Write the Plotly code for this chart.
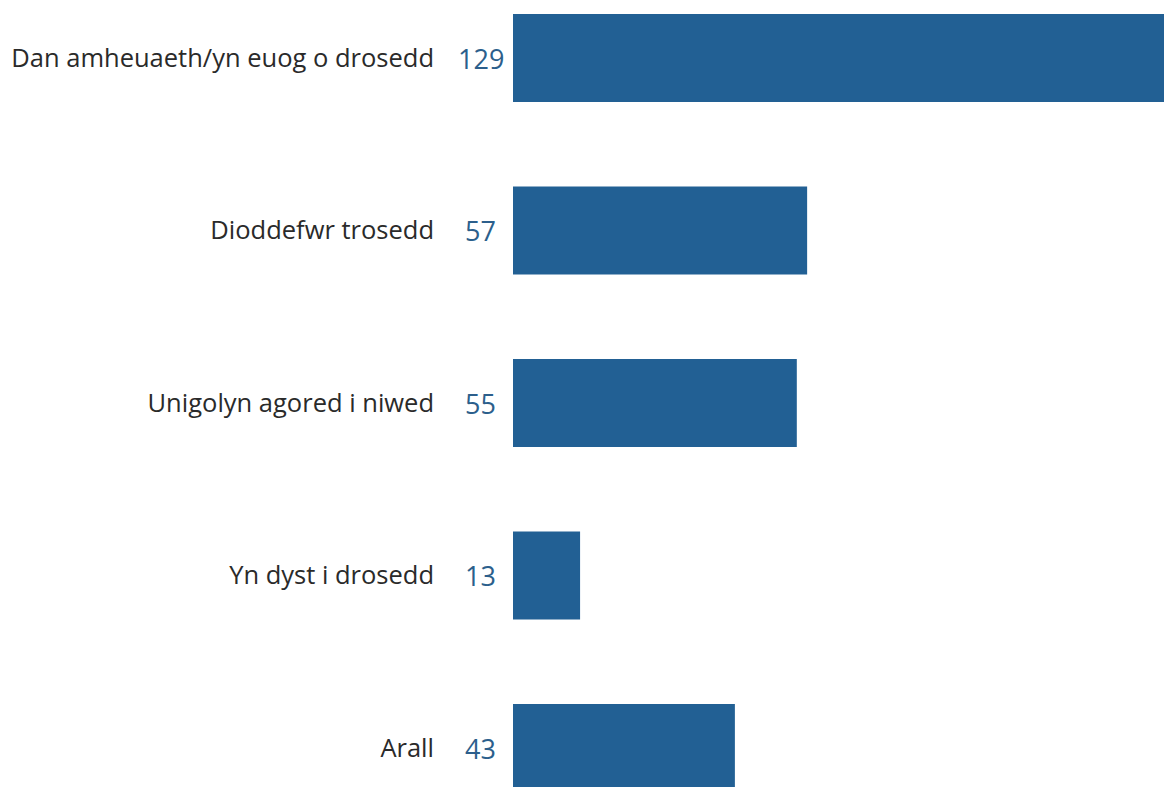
import plotly.graph_objects as go

categories = ["Dan amheuaeth/yn euog o drosedd", "Dioddefwr trosedd", "Unigolyn agored i niwed",
              "Yn dyst i drosedd", "Arall"]
values = [129, 57, 55, 13, 43]

BAR = "#226094"
NUM = "#2c5f8c"
FONT = "Open Sans, Lato, sans-serif"

fig = go.Figure(go.Bar(
    x=values, y=categories, orientation="h",
    marker=dict(color=BAR, line=dict(width=0)),
    width=0.51, hoverinfo="skip",
))

for c, v in zip(categories, values):
    fig.add_annotation(x=-0.048, xref="paper", y=c, yref="y", text=str(v),
                       showarrow=False, xanchor="center", yanchor="middle",
                       font=dict(family=FONT, size=27, color=NUM))

fig.update_layout(
    width=1172, height=779,
    margin=dict(l=505, r=0, t=0, b=0),
    paper_bgcolor="white", plot_bgcolor="white",
    showlegend=False,
    font=dict(family=FONT, size=25.5, color="#2a2a2a"),
    bargap=0.49,
)
fig.update_xaxes(range=[0, 129.26], visible=False, fixedrange=True)
fig.update_yaxes(type="category", categoryorder="array", categoryarray=categories,
                 range=[4.226, -0.29], showgrid=False, showline=False, zeroline=False,
                 ticks="", ticklabelstandoff=78, tickfont=dict(family=FONT, size=25.5, color="#2a2a2a"))

fig.write_html("out.html")
